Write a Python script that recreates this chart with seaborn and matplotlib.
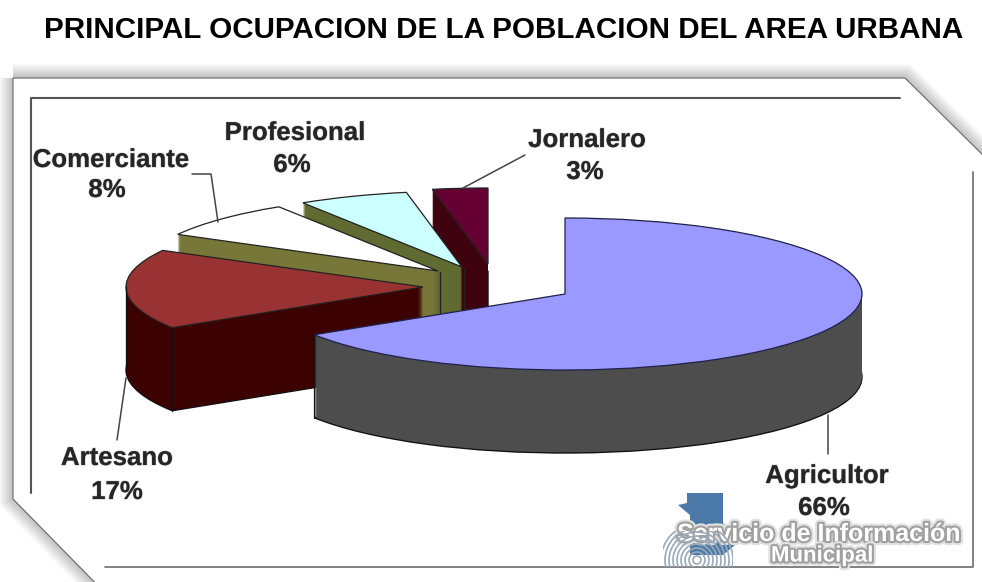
import numpy as np
import matplotlib
matplotlib.use('Agg')
import matplotlib.pyplot as plt
import matplotlib.patheffects as pe
from matplotlib.patches import Polygon, Ellipse, Rectangle
import seaborn as sns

title = 'PRINCIPAL OCUPACION DE LA POBLACION DEL AREA URBANA'
names = ['Agricultor', 'Artesano', 'Comerciante', 'Profesional', 'Jornalero']
values = [66, 17, 8, 6, 3]

top_colors = ['#9999ff', '#993333', '#ffffff', '#ccffff', '#660033']
side_colors = ['#4d4d4d', '#3c0202', '#77773a', '#5f6b30', '#3f0310']

# pie centres in picture pixels, one per slice (exploded by hand)
centres = [(565, 294), (423, 287), (438, 271), (462, 267), (488, 264)]
draw_order = [4, 3, 2, 1, 0]
label_pos = [(827, 476), (117, 458), (111, 160), (295, 133), (587, 140)]
pct_pos = [(824, 508), (117, 492), (107, 190), (292, 165), (585, 172)]

RX, RY, DEPTH = 297, 76, 83
K = RX / RY

sns.set_theme(style='white')
plt.rcParams['font.family'] = ['Liberation Sans', 'DejaVu Sans']

fig = plt.figure(figsize=(9.82, 5.82), dpi=100, facecolor='white')
ax = fig.add_axes([0, 0, 1, 1])


def Y(py):
    return -py * K


# frame with soft shadow
frame = [(13, 78), (905, 78), (1000, 172), (1000, 600), (112, 600), (13, 499)]
frame = [(x, Y(y)) for x, y in frame]
for lw in np.arange(20, 1, -2):
    ax.add_patch(Polygon(frame, closed=True, fc='none', ec='black', lw=lw,
                         alpha=0.025, zorder=1, joinstyle='miter'))
ax.add_patch(Polygon(frame, closed=True, fc='white', ec='#666666', lw=0.8, zorder=2))

# inner border
ax.plot([900, 31, 31], [Y(98), Y(98), Y(493)], color='#555555', lw=1.5, zorder=3)
ax.plot([105, 973, 973], [Y(567), Y(567), Y(172)], color='#777777', lw=1.3, zorder=3)

# 3D look: same pie stacked layer by layer, back slices first
layers = list(range(DEPTH, 0, -1)) + [0]
angles = np.cumsum([0] + values) / sum(values) * 360
for n, d in enumerate(layers):
    cols = side_colors if d > 0 else top_colors
    wedges, _ = ax.pie(values, radius=RX, startangle=90, counterclock=False, colors=cols,
                       wedgeprops=dict(linewidth=0))
    for i, w in enumerate(wedges):
        cx, cy = centres[i]
        w.set_center((cx, Y(cy + d)))
        w.set_zorder(10 + draw_order[i] * 2 + n * 0.001)
        if d == DEPTH:
            w.set_edgecolor('#111111')
            w.set_linewidth(1)
        if d == 0:
            w.set_edgecolor('#222222' if i != 0 else '#20204a')
            w.set_linewidth(0.9)

# seams on the extruded sides
for i, a in [(1, angles[1]), (0, angles[1])]:
    t = np.deg2rad(90 - a)
    cx, cy = centres[i]
    x = cx + RX * np.cos(t)
    yy = cy - RY * np.sin(t)
    ax.plot([x, x], [Y(yy), Y(yy + DEPTH)], color='#111111', lw=0.9,
            zorder=10 + draw_order[i] * 2 + 0.5)
for i in [2, 3]:
    cx, cy = centres[i]
    ax.plot([cx + 2, cx + 2], [Y(cy + 1), Y(cy + 50)], color='#222222', lw=0.9,
            zorder=10 + draw_order[i] * 2 + 0.5)
ax.plot([126, 126], [Y(287), Y(368)], color='#111111', lw=0.9, zorder=18)

# leader lines
leaders = [([828, 828], [415, 454]), ([126, 117], [378, 440]),
           ([192, 211, 218], [174, 174, 222]), ([463, 525], [188, 155])]
for lx, ly in leaders:
    ax.plot(lx, [Y(v) for v in ly], color='#444444', lw=1.1, zorder=30)

# labels
for name, v, p, q in zip(names, values, label_pos, pct_pos):
    for s, (x, y) in [(name, p), (f'{v}%', q)]:
        ax.text(x, Y(y), s, ha='center', va='center', fontsize=18.6, fontweight='bold',
                color='#262626', zorder=40,
                path_effects=[pe.withStroke(linewidth=1.0, foreground='#99999966')])

fig.text(503.5 / 982, 1 - 30 / 582, title, ha='center', va='center', fontsize=21.3,
         fontweight='bold', color='black')

# logo bottom right
logo = [(687, 493), (723, 493), (723, 523), (740, 541), (723, 555), (690, 555),
        (690, 515), (678, 505), (687, 503)]
ax.add_patch(Polygon([(x, Y(y)) for x, y in logo], closed=True, fc='#4b7aa8', ec='none', zorder=31))
clip = Rectangle((663, Y(567)), 70, 36 * K, transform=ax.transData)
for r in range(4, 40, 4):
    e = Ellipse((697, Y(560)), r * 2, r * 2 * K, fc='none', ec='#9aa9b8', lw=1.2, zorder=36)
    ax.add_patch(e)
    e.set_clip_path(clip)
shadow = [pe.withStroke(linewidth=6, foreground='#e2e2e2'),
          pe.withStroke(linewidth=3, foreground='#a0a0a0')]
ax.text(819, Y(534), 'Servicio de Información', ha='center', va='center',
        fontsize=18, fontweight='bold', color='white', zorder=35, path_effects=shadow)
ax.text(822, Y(556), 'Municipal', ha='center', va='center', fontsize=16,
        fontweight='bold', color='white', zorder=37, path_effects=shadow)

ax.set_aspect('auto')
ax.set_xlim(0, 982)
ax.set_ylim(Y(582), 0)
ax.axis('off')

fig.savefig('out.png', dpi=100)
